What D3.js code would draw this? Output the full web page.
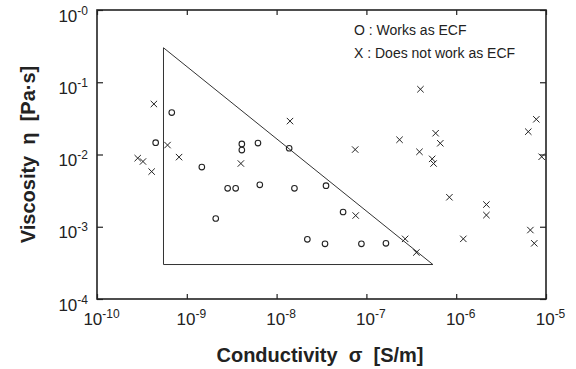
<!DOCTYPE html>
<html><head><meta charset="utf-8">
<script src="https://cdn.jsdelivr.net/npm/d3@7"></script>
<style>
html,body{margin:0;padding:0;background:#fff;}
svg{display:block;font-family:"Liberation Sans",Arial,sans-serif;}
</style></head>
<body><svg id="c" width="576" height="369"></svg>
<script>
// ---- data ----
const worksSigma = [6.8e-10, 4.5e-10, 1.47e-9, 2.1e-9, 2.85e-9, 3.5e-9, 4.1e-9, 4.1e-9, 6.2e-9, 6.5e-9, 1.38e-8, 1.58e-8, 3.55e-8, 2.2e-8, 3.46e-8, 5.5e-8, 8.8e-8, 1.65e-7];
const worksEta   = [0.038, 0.0146, 0.0067, 0.0013, 0.0034, 0.0034, 0.014, 0.0115, 0.0144, 0.0038, 0.0122, 0.0034, 0.0037, 6.7e-4, 5.8e-4, 1.6e-3, 5.8e-4, 5.9e-4];
const notSigma = [4.3e-10, 6.1e-10, 2.84e-10, 3.25e-10, 4.06e-10, 8.2e-10, 4.0e-9, 1.41e-8, 7.5e-8, 7.6e-8, 2.7e-7, 3.6e-7, 4.0e-7, 5.9e-7, 2.34e-7, 6.65e-7, 3.9e-7, 5.4e-7, 5.6e-7, 8.4e-7, 2.17e-6, 2.17e-6, 1.2e-6, 7.8e-6, 6.35e-6, 8.95e-6, 6.7e-6, 7.4e-6];
const notEta   = [0.05, 0.0135, 0.0089, 0.0080, 0.0058, 0.0092, 0.0075, 0.029, 0.0117, 0.00143, 6.8e-4, 4.4e-4, 0.080, 0.0197, 0.016, 0.0143, 0.0109, 0.0087, 0.0075, 0.00256, 0.00203, 0.00145, 6.8e-4, 0.0307, 0.0207, 0.0093, 9.0e-4, 5.9e-4];
const triSigma = [5.5e-10, 5.5e-10, 5.5e-7];
const triEta   = [0.3, 3e-4, 3e-4];
const xTickExps = ["-10", "-9", "-8", "-7", "-6", "-5"];
const yTickExps = ["-0", "-1", "-2", "-3", "-4"];
const legendLabels = ["O : Works as ECF", "X : Does not work as ECF"];
const xTitle = "Conductivity  σ  [S/m]";
const yTitle = "Viscosity  η  [Pa·s]";

// ---- layout ----
const L = 97, R = 546, T = 10, B = 299;
const ink = "#222";
const svg = d3.select("#c");
const x = d3.scaleLog().domain([1e-10, 1e-5]).range([L, R]);
const y = d3.scaleLog().domain([1, 1e-4]).range([T, B]);
const xVals = xTickExps.map(e => Math.pow(10, +e));
const yVals = yTickExps.map(e => Math.pow(10, +e));

function supLabels(sel, exps, anchor, dx, dyBase) {
  sel.selectAll(".tick text").each(function(d, i) {
    const t = d3.select(this).text(null)
      .attr("text-anchor", anchor).attr("x", dx).attr("y", dyBase).attr("dy", null)
      .attr("fill", ink).attr("font-size", 17);
    t.append("tspan").text("10");
    t.append("tspan").attr("font-size", 12).attr("dy", -7).text(exps[i]);
  });
}

// axes (ticks inward)
const gB = svg.append("g").attr("transform", `translate(0,${B})`)
  .call(d3.axisBottom(x).tickValues(xVals).tickSizeInner(-5).tickSizeOuter(0).tickPadding(0));
supLabels(gB, xTickExps, "middle", 4, 26);
const gT = svg.append("g").attr("transform", `translate(0,${T})`)
  .call(d3.axisTop(x).tickValues(xVals).tickSizeInner(-5).tickSizeOuter(0).tickFormat(""));
const gL = svg.append("g").attr("transform", `translate(${L},0)`)
  .call(d3.axisLeft(y).tickValues(yVals).tickSizeInner(-6).tickSizeOuter(0).tickPadding(0));
supLabels(gL, yTickExps, "end", -9, 11);
const gR = svg.append("g").attr("transform", `translate(${R},0)`)
  .call(d3.axisRight(y).tickValues(yVals).tickSizeInner(-6).tickSizeOuter(0).tickFormat(""));
[gB, gT, gL, gR].forEach(g => {
  g.select(".domain").remove();
  g.selectAll(".tick line").attr("stroke", ink).attr("stroke-width", 1.2);
});
// frame
svg.append("rect").attr("x", L).attr("y", T).attr("width", R - L).attr("height", B - T)
  .attr("fill", "none").attr("stroke", ink).attr("stroke-width", 1.6);

// triangle
const tri = triSigma.map((s, i) => [x(s), y(triEta[i])]);
svg.append("path").attr("d", d3.line()(tri) + "Z")
  .attr("fill", "none").attr("stroke", "#333").attr("stroke-width", 1);

// circles (works)
svg.append("g").selectAll("circle").data(worksSigma).join("circle")
  .attr("cx", d => x(d)).attr("cy", (d, i) => y(worksEta[i])).attr("r", 2.8)
  .attr("fill", "none").attr("stroke", ink).attr("stroke-width", 1.1);

// crosses (does not work)
const s = 3.2;
svg.append("g").selectAll("path").data(notSigma).join("path")
  .attr("d", (d, i) => {
    const cx = x(d), cy = y(notEta[i]);
    return `M${cx - s},${cy - s}L${cx + s},${cy + s}M${cx - s},${cy + s}L${cx + s},${cy - s}`;
  })
  .attr("fill", "none").attr("stroke", ink).attr("stroke-width", 1);

// legend
svg.append("g").selectAll("text").data(legendLabels).join("text")
  .attr("x", 354).attr("y", (d, i) => 35 + i * 23)
  .attr("font-size", 14).attr("fill", ink).text(d => d);

// titles
svg.append("text").attr("x", 320).attr("y", 362).attr("text-anchor", "middle")
  .attr("font-size", 20).attr("font-weight", "bold").attr("fill", ink)
  .attr("xml:space", "preserve").style("white-space", "pre").text(xTitle);
svg.append("text").attr("transform", `translate(35,${(T + B) / 2}) rotate(-90)`)
  .attr("text-anchor", "middle").attr("font-size", 20).attr("font-weight", "bold").attr("fill", ink)
  .style("white-space", "pre").text(yTitle);
</script>
</body></html>
